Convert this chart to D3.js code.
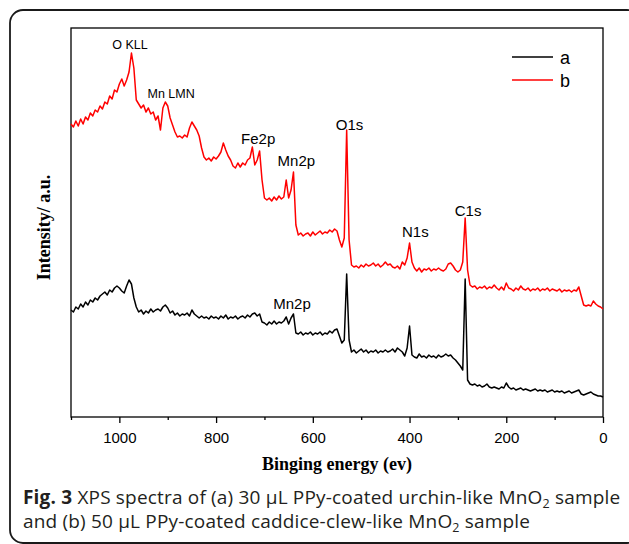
<!DOCTYPE html>
<html><head><meta charset="utf-8">
<script src="https://cdn.jsdelivr.net/npm/d3@7"></script>
<style>body{margin:0;background:#fff}svg{display:block}</style>
</head><body>
<svg id="c" width="629" height="544"></svg>
<script>
// Binding energy grid (eV), 1100 -> 0 in 5 eV steps
const energy = d3.range(1100, -1, -5);

// Series (b): 50 µL PPy-coated caddice-clew-like MnO2 (a.u.)
const seriesB = [
  293,290,296,291,298,293,300,297,304,301,
  307,305,311,308,315,313,321,318,327,325,
  333,338,331,337,345,364,349,317,313,309,
  312,305,309,303,305,297,301,287,309,315,
  311,299,292,285,280,281,279,282,280,289,
  295,291,287,281,269,260,257,259,256,260,
  258,261,265,274,267,261,257,251,249,254,
  250,254,252,257,259,270,252,257,266,237,
  219,217,219,216,220,217,221,218,220,237,
  219,227,245,192,182,184,181,183,184,181,
  185,182,184,186,183,185,184,187,185,188,
  186,177,170,179,287,177,152,150,151,149,
  152,150,153,151,152,154,151,153,150,152,
  155,152,153,150,149,151,148,155,152,159,
  174,155,149,146,149,145,148,147,149,146,
  148,147,149,147,146,148,153,154,151,147,
  145,147,155,199,147,132,130,131,128,130,
  129,131,128,130,129,132,129,127,130,127,
  134,129,128,126,129,127,131,128,127,129,
  126,128,127,129,126,128,127,129,126,128,
  127,126,128,125,127,126,127,125,127,126,
  130,121,112,111,112,111,116,113,111,110,
  108
];

// Series (a): 30 µL PPy-coated urchin-like MnO2 (a.u.)
const seriesA = [
  107,105,110,108,113,110,115,112,117,115,
  119,117,121,123,125,122,127,125,129,131,
  129,126,124,131,137,133,119,110,105,107,
  103,106,104,108,105,107,108,106,110,112,
  109,104,106,102,104,101,103,102,104,101,
  107,103,101,99,101,99,100,98,101,99,
  100,98,101,99,102,98,100,99,101,98,
  100,101,99,102,100,103,104,101,103,95,
  94,92,95,93,96,93,95,94,96,100,
  93,99,103,84,83,85,82,84,83,85,
  82,84,83,85,82,84,83,86,84,87,
  88,81,74,77,143,77,65,67,64,66,
  68,65,67,64,66,65,67,64,66,65,
  67,65,66,68,65,69,67,65,61,69,
  91,62,60,59,63,60,61,59,62,60,
  61,59,62,60,61,63,61,62,59,57,
  54,51,47,138,37,33,32,33,31,32,
  30,31,33,30,29,30,29,28,30,29,
  34,30,28,29,27,28,29,27,28,27,
  26,27,28,26,27,26,27,25,26,27,
  25,26,25,26,24,25,26,24,25,26,
  27,23,22,23,24,25,23,22,21,21,
  20
];

const majorTicks = [1000, 800, 600, 400, 200, 0];
const minorTicks = [1100, 900, 700, 500, 300, 100];
const seriesNames = ["a", "b"];
const seriesColors = ["#000000", "#ff0000"];

// Peak annotations: [label, energy, intensity, size]
const peakLabels = [
  ["O KLL", 978, 368, 12.5],
  ["Mn LMN", 893, 319, 12.5],
  ["Fe2p", 713, 273, 15],
  ["Mn2p", 634, 251, 15],
  ["O1s", 524, 287, 15],
  ["N1s", 388, 180, 15],
  ["C1s", 279, 201, 15],
  ["Mn2p", 643, 108, 15]
];

const svg = d3.select("#c");
const L = 71, R = 603, T = 28, B = 417;

// outer rounded frame
svg.append("rect").attr("x", 10).attr("y", 10).attr("width", 630).attr("height", 533)
  .attr("rx", 13).attr("fill", "none").attr("stroke", "#1a1a1a").attr("stroke-width", 1.8);

const x = d3.scaleLinear().domain([1100, 0]).range([L, R]);
const y = d3.scaleLinear().domain([0, 389]).range([B, T]);

const line = d3.line().x((d, i) => x(energy[i])).y(d => y(d));

const g = svg.append("g");

// plot frame
g.append("rect").attr("x", L).attr("y", T).attr("width", R - L).attr("height", B - T)
  .attr("fill", "none").attr("stroke", "#000").attr("stroke-width", 1.3);

const axMaj = g.append("g").attr("transform", `translate(0,${B})`)
  .call(d3.axisBottom(x).tickValues(majorTicks).tickSize(6).tickPadding(9).tickFormat(d3.format("d")));
axMaj.select(".domain").remove();
axMaj.selectAll("line").attr("stroke", "#000").attr("stroke-width", 1.3);
axMaj.selectAll("text").attr("font-family", "'Liberation Sans', Arial, sans-serif")
  .attr("font-size", 15).attr("fill", "#000");

const axMin = g.append("g").attr("transform", `translate(0,${B})`)
  .call(d3.axisBottom(x).tickValues(minorTicks).tickSize(3).tickFormat(""));
axMin.select(".domain").remove();
axMin.selectAll("line").attr("stroke", "#000").attr("stroke-width", 1.3);

// series
[seriesA, seriesB].forEach((s, k) => {
  g.append("path").datum(s).attr("d", line).attr("fill", "none")
    .attr("stroke", seriesColors[k]).attr("stroke-width", 1.5).attr("stroke-linejoin", "round");
});

// peak labels
peakLabels.forEach(([t, e, v, fs]) => {
  g.append("text").attr("x", x(e)).attr("y", y(v)).attr("text-anchor", "middle")
    .attr("font-family", "'Liberation Sans', Arial, sans-serif").attr("font-size", fs)
    .attr("fill", "#000").text(t);
});

// legend
seriesNames.forEach((n, k) => {
  const ly = 57 + k * 23;
  g.append("line").attr("x1", 512).attr("x2", 553).attr("y1", ly).attr("y2", ly)
    .attr("stroke", seriesColors[k]).attr("stroke-width", 1.5);
  g.append("text").attr("x", 560).attr("y", ly + 7)
    .attr("font-family", "'Liberation Sans', Arial, sans-serif").attr("font-size", 18)
    .attr("fill", "#000").text(n);
});

// axis titles
svg.append("text").attr("x", (L + R) / 2).attr("y", 470).attr("text-anchor", "middle")
  .attr("font-family", "'Liberation Serif', 'Times New Roman', serif").attr("font-weight", "bold")
  .attr("font-size", 18).attr("fill", "#000").text("Binging energy (ev)");
svg.append("text").attr("transform", `translate(50,${(T + B) / 2 + 5}) rotate(-90)`)
  .attr("text-anchor", "middle")
  .attr("font-family", "'Liberation Serif', 'Times New Roman', serif").attr("font-weight", "bold")
  .attr("font-size", 18).attr("fill", "#000").text("Intensity/ a.u.");

// caption
const capFont = "'Open Sans', 'Noto Sans', sans-serif";
const capSize = 19;
const c1 = svg.append("text").attr("x", 23).attr("y", 504)
  .attr("font-family", capFont).attr("font-size", capSize).attr("fill", "#231f20")
  .attr("letter-spacing", 0.18);
c1.append("tspan").attr("font-weight", "bold").text("Fig. 3");
c1.append("tspan").text(" XPS spectra of (a) 30 µL PPy-coated urchin-like MnO");
c1.append("tspan").attr("font-size", 12.5).attr("dy", 4).text("2");
c1.append("tspan").attr("dy", -4).text(" sample");

const c2 = svg.append("text").attr("x", 23).attr("y", 528)
  .attr("font-family", capFont).attr("font-size", capSize).attr("fill", "#231f20")
  .attr("letter-spacing", 0.18);
c2.append("tspan").text("and (b) 50 µL PPy-coated caddice-clew-like MnO");
c2.append("tspan").attr("font-size", 12.5).attr("dy", 4).text("2");
c2.append("tspan").attr("dy", -4).text(" sample");
</script>
</body></html>
